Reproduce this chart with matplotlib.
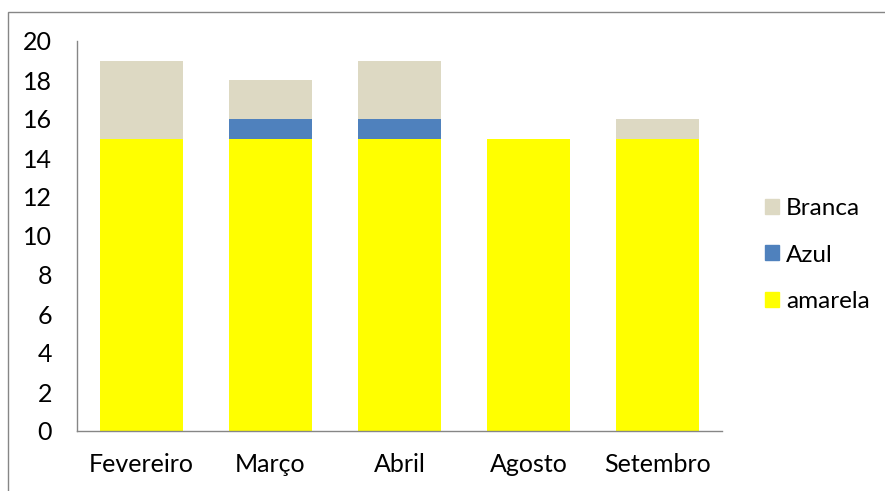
import matplotlib
matplotlib.use("Agg")
import matplotlib.pyplot as plt
from matplotlib.patches import Rectangle, Patch
import numpy as np

categories = ["Fevereiro", "Março", "Abril", "Agosto", "Setembro"]
amarela = [15, 15, 15, 15, 15]
azul = [0, 1, 1, 0, 0]
branca = [4, 2, 3, 0, 1]
yticks = [0, 2, 4, 6, 8, 10, 12, 14, 16, 18, 20]

c_amarela = "#FFFF00"
c_azul = "#4F81BD"
c_branca = "#DDD9C3"

plt.rcParams['font.family'] = ['Lato', 'DejaVu Sans']

W, H = 885, 491
fig = plt.figure(figsize=(W/100, H/100), dpi=100)
ax = fig.add_axes([77/W, 1-431/H, (722-77)/W, (431-41)/H])

x = np.arange(len(categories))
w = 0.64
a = np.array(amarela); b = np.array(azul); c = np.array(branca)
ax.bar(x, a, w, color=c_amarela, label="amarela")
ax.bar(x, b, w, bottom=a, color=c_azul, label="Azul")
ax.bar(x, c, w, bottom=a+b, color=c_branca, label="Branca")

ax.set_xlim(-0.5, len(categories)-0.5)
ax.set_ylim(0, 20)
ax.set_yticks(yticks)
ax.set_xticks(x)
ax.set_xticklabels(categories)
for s in ["top", "right"]:
    ax.spines[s].set_visible(False)
for s in ["left", "bottom"]:
    ax.spines[s].set_color("#868686")
    ax.spines[s].set_linewidth(1)
ax.tick_params(axis="both", length=0, labelsize=18, colors="black")
ax.tick_params(axis="y", pad=18)
ax.tick_params(axis="x", pad=16)

handles = [Patch(color=c_branca), Patch(color=c_azul), Patch(color=c_amarela)]
fig.legend(handles, ["Branca", "Azul", "amarela"], loc="center left",
           bbox_to_anchor=(743/W, 1-255/H), frameon=False, fontsize=17.5,
           handlelength=0.57, handleheight=0.57, labelspacing=1.05, handletextpad=0.3)

fig.patches.append(Rectangle((8/W, -0.05), 1.0, 1.05-12/H, transform=fig.transFigure,
                             fill=False, edgecolor="#868686", linewidth=1))

fig.savefig("out.png", dpi=100)
